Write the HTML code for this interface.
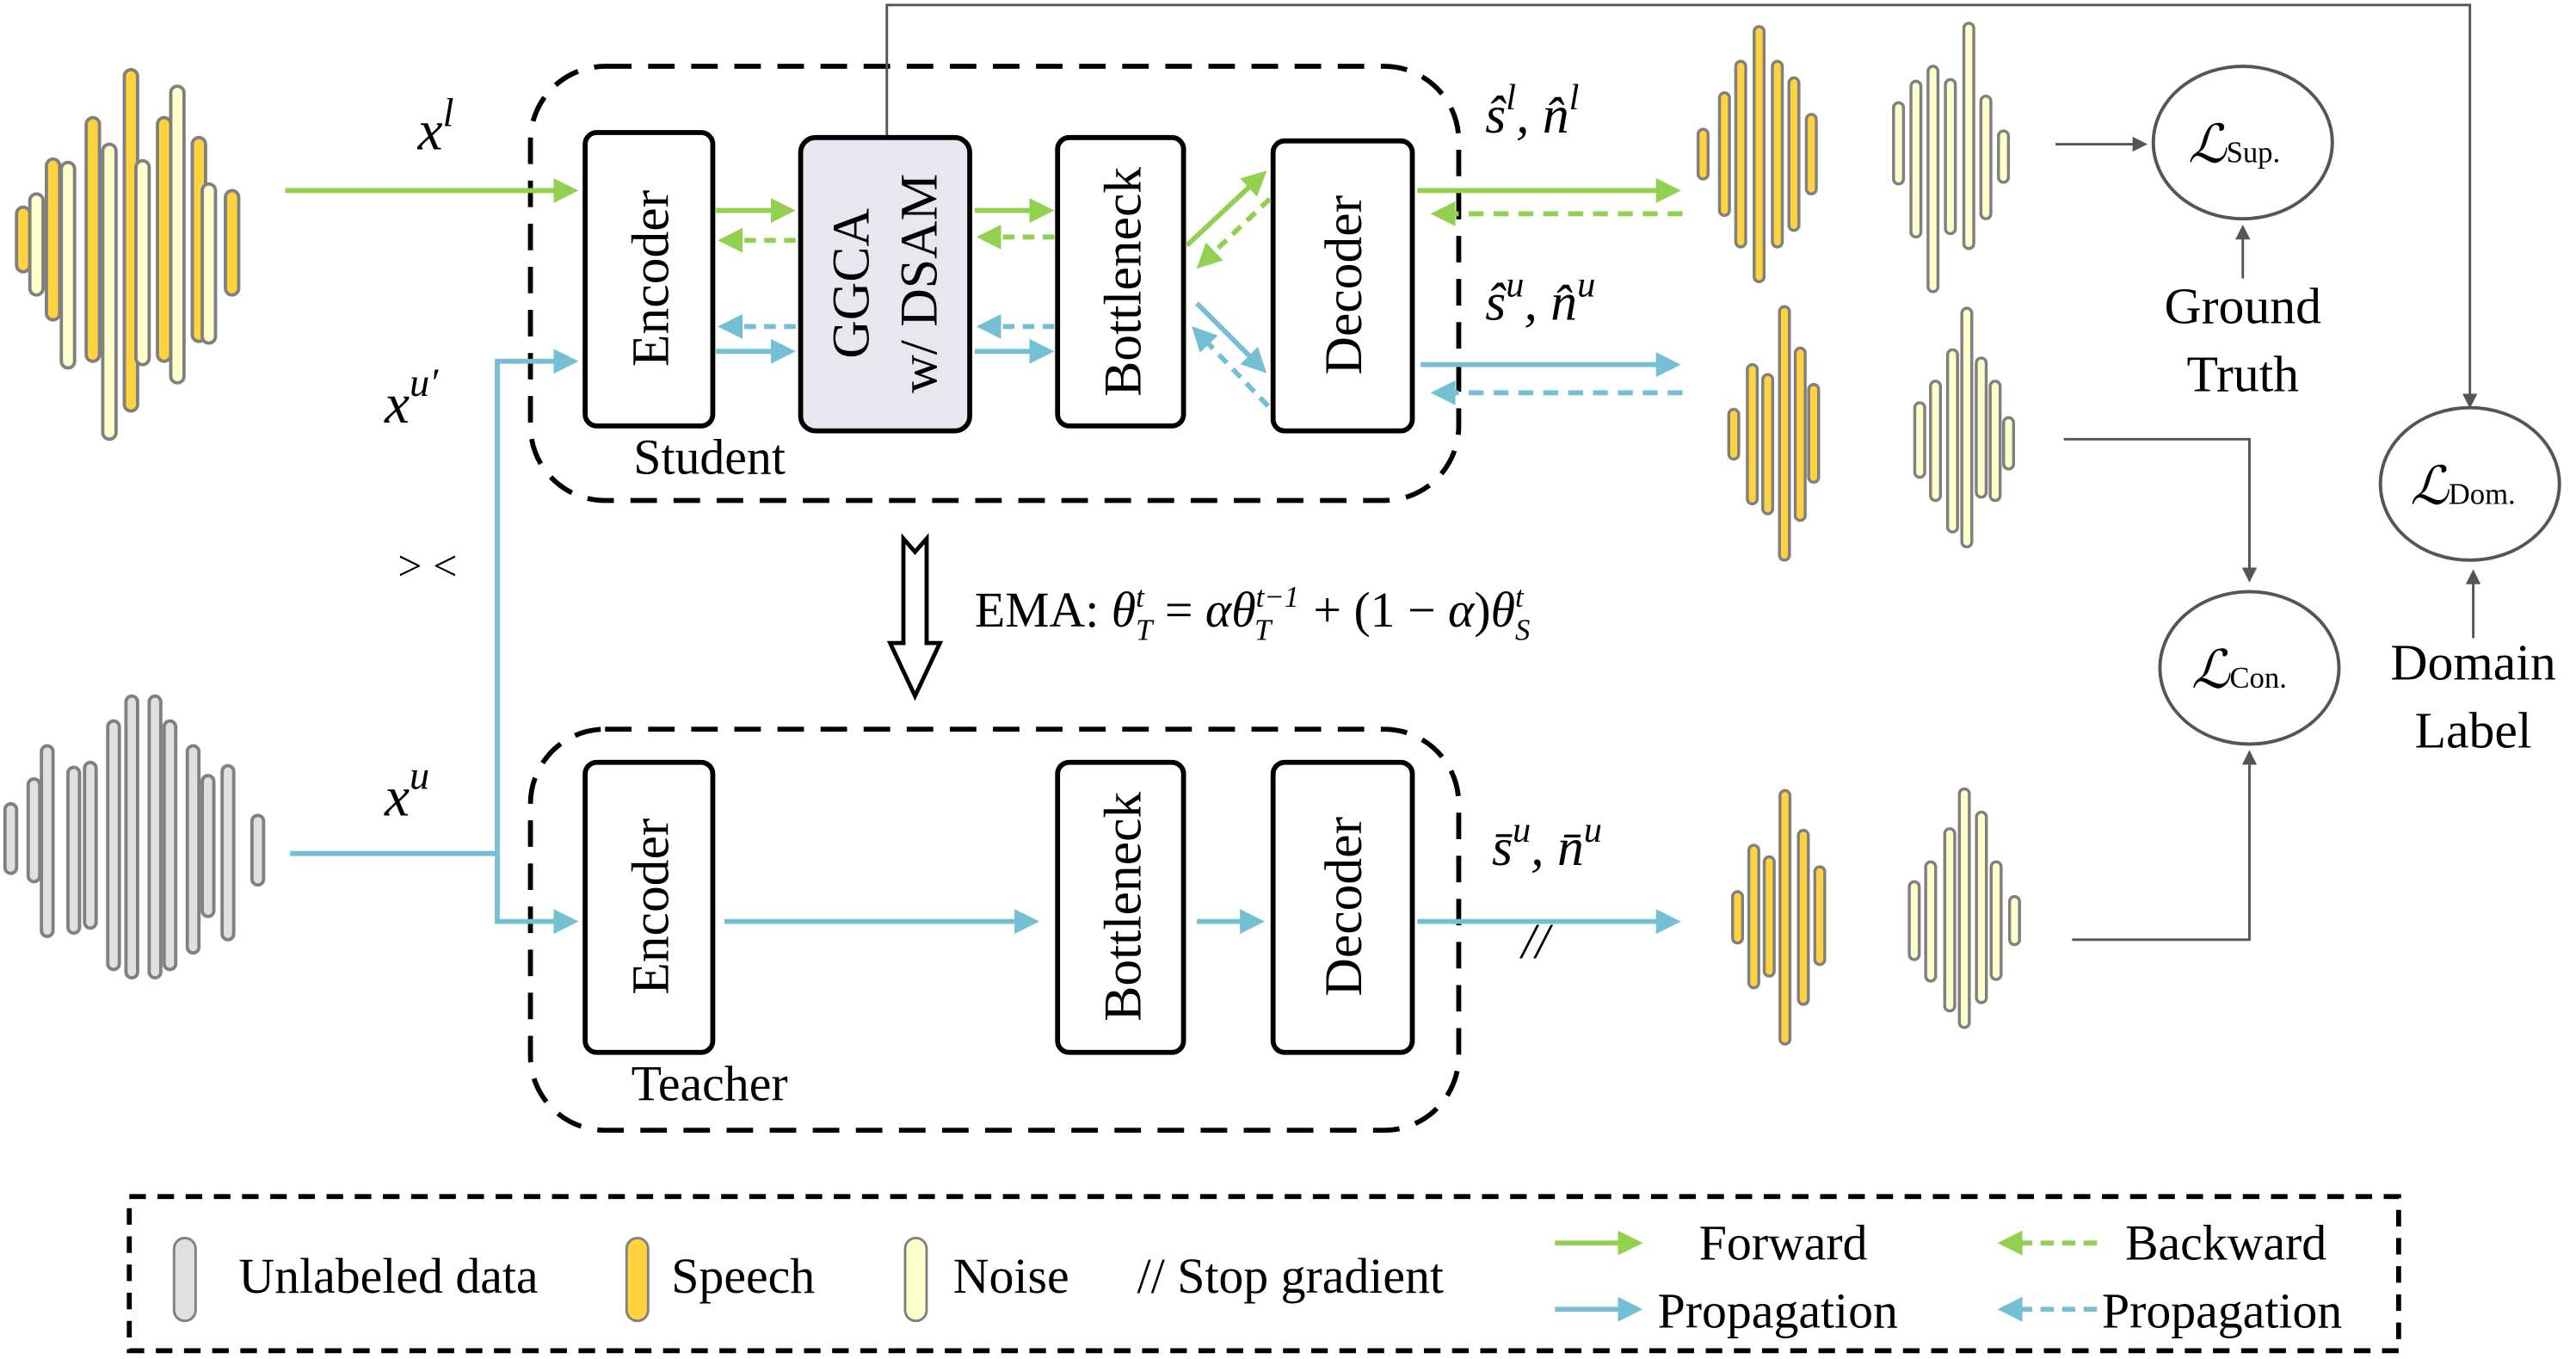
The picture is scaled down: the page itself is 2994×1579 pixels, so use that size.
<!DOCTYPE html>
<html><head><meta charset="utf-8"><style>
html,body{margin:0;padding:0;background:#fff;width:2994px;height:1579px;overflow:hidden}
svg{display:block}
text{font-family:"Liberation Serif",serif;fill:#000}
.m{font-style:italic}
</style></head><body>
<svg width="2994" height="1579" viewBox="0 0 1554 820" preserveAspectRatio="none" xmlns="http://www.w3.org/2000/svg">
<defs>
<marker id="ag" markerWidth="5" markerHeight="5" refX="4" refY="2.5" orient="auto" markerUnits="strokeWidth"><path d="M0,0 L5,2.5 L0,5 z" fill="#92d050"/></marker>
<marker id="ab" markerWidth="5" markerHeight="5" refX="4" refY="2.5" orient="auto" markerUnits="strokeWidth"><path d="M0,0 L5,2.5 L0,5 z" fill="#74bfd3"/></marker>
<marker id="ak" markerWidth="6" markerHeight="6" refX="5" refY="3" orient="auto" markerUnits="strokeWidth"><path d="M0,0 L6,3 L0,6 z" fill="#555"/></marker>
</defs>
<g stroke="#808080" stroke-width="2">
<g>
<rect x="10" y="125" width="8" height="39" rx="4" fill="#ffd33d"/>
<rect x="18" y="117" width="8" height="61" rx="4" fill="#ffffcc"/>
<rect x="28" y="96" width="8" height="97" rx="4" fill="#ffd33d"/>
<rect x="37" y="98" width="8" height="124" rx="4" fill="#ffffcc"/>
<rect x="52" y="71" width="8" height="147" rx="4" fill="#ffd33d"/>
<rect x="62" y="87" width="8" height="178" rx="4" fill="#ffffcc"/>
<rect x="75" y="42" width="8" height="206" rx="4" fill="#ffd33d"/>
<rect x="82" y="97" width="8" height="123" rx="4" fill="#ffffcc"/>
<rect x="95" y="71" width="8" height="147" rx="4" fill="#ffd33d"/>
<rect x="103" y="52" width="8" height="179" rx="4" fill="#ffffcc"/>
<rect x="116" y="83" width="8" height="123" rx="4" fill="#ffd33d"/>
<rect x="122" y="111" width="8" height="96" rx="4" fill="#ffffcc"/>
<rect x="136" y="115" width="8" height="63" rx="4" fill="#ffd33d"/>
</g>
<g fill="#e0e0e0">
<rect x="3" y="485" width="7" height="42" rx="3.5"/>
<rect x="17" y="470" width="7" height="62" rx="3.5"/>
<rect x="25" y="450" width="7" height="115" rx="3.5"/>
<rect x="41" y="463" width="7" height="100" rx="3.5"/>
<rect x="51" y="460" width="7" height="100" rx="3.5"/>
<rect x="65" y="435" width="7" height="150" rx="3.5"/>
<rect x="76" y="420" width="7" height="170" rx="3.5"/>
<rect x="90" y="420" width="7" height="170" rx="3.5"/>
<rect x="99" y="435" width="7" height="150" rx="3.5"/>
<rect x="113" y="450" width="7" height="125" rx="3.5"/>
<rect x="122" y="468" width="7" height="85" rx="3.5"/>
<rect x="134" y="462" width="7" height="105" rx="3.5"/>
<rect x="152" y="492" width="7" height="42" rx="3.5"/>
</g>
</g>
<g stroke="#808080" stroke-width="1.8">
<g fill="#ffd33d">
<rect x="1024.4" y="78" width="6" height="30" rx="3"/>
<rect x="1037.3" y="56" width="6" height="74" rx="3"/>
<rect x="1047.1" y="37" width="6" height="112" rx="3"/>
<rect x="1058.2" y="16" width="6" height="154" rx="3"/>
<rect x="1069.2" y="37" width="6" height="112" rx="3"/>
<rect x="1079.2" y="47" width="6" height="92" rx="3"/>
<rect x="1089.7" y="69" width="6" height="48" rx="3"/>
</g>
<g fill="#ffffcc">
<rect x="1142.3" y="62" width="6" height="49" rx="3"/>
<rect x="1152.8" y="49" width="6" height="94" rx="3"/>
<rect x="1163.1" y="40" width="6" height="136" rx="3"/>
<rect x="1173.6" y="48" width="6" height="93" rx="3"/>
<rect x="1184.7" y="14" width="6" height="136" rx="3"/>
<rect x="1195" y="58" width="6" height="74" rx="3"/>
<rect x="1205.6" y="79" width="6" height="31" rx="3"/>
</g>
<g fill="#ffd33d">
<rect x="1042.9" y="247" width="6" height="30" rx="3"/>
<rect x="1054.1" y="220" width="6" height="84" rx="3"/>
<rect x="1063.4" y="226" width="6" height="84" rx="3"/>
<rect x="1073.5" y="185" width="6" height="153" rx="3"/>
<rect x="1083" y="210" width="6" height="104" rx="3"/>
<rect x="1091.1" y="232" width="6" height="59" rx="3"/>
</g>
<g fill="#ffffcc">
<rect x="1155.1" y="243" width="6" height="45" rx="3"/>
<rect x="1164.6" y="230" width="6" height="72" rx="3"/>
<rect x="1174.9" y="211" width="6" height="110" rx="3"/>
<rect x="1183.5" y="186" width="6" height="144" rx="3"/>
<rect x="1192.2" y="216" width="6" height="84" rx="3"/>
<rect x="1200.6" y="230" width="6" height="72" rx="3"/>
<rect x="1208.7" y="252" width="6" height="31" rx="3"/>
</g>
<g fill="#ffd33d">
<rect x="1045.2" y="538" width="6" height="31" rx="3"/>
<rect x="1055" y="510" width="6" height="86" rx="3"/>
<rect x="1064.3" y="517" width="6" height="72" rx="3"/>
<rect x="1073.8" y="477" width="6" height="153" rx="3"/>
<rect x="1084.9" y="501" width="6" height="105" rx="3"/>
<rect x="1094.8" y="523" width="6" height="59" rx="3"/>
</g>
<g fill="#ffffcc">
<rect x="1151.8" y="532" width="6" height="47" rx="3"/>
<rect x="1161.7" y="520" width="6" height="72" rx="3"/>
<rect x="1173.2" y="500" width="6" height="110" rx="3"/>
<rect x="1182" y="476" width="6" height="144" rx="3"/>
<rect x="1192.3" y="490" width="6" height="115" rx="3"/>
<rect x="1201.2" y="520" width="6" height="71" rx="3"/>
<rect x="1212.3" y="541" width="6" height="29" rx="3"/>
</g>
</g>

<rect x="320" y="40" width="560" height="262" rx="45" fill="none" stroke="#000" stroke-width="3" stroke-dasharray="16,10"/>
<rect x="320" y="440" width="560" height="242" rx="45" fill="none" stroke="#000" stroke-width="3" stroke-dasharray="16,10"/>

<polyline points="535,83 535,3 1490,3 1490,245" fill="none" stroke="#555" stroke-width="1.5" marker-end="url(#ak)"/>

<g stroke="#000" stroke-width="3">
<rect x="353" y="80" width="77" height="177" rx="7" fill="#fff"/>
<rect x="483" y="83" width="102" height="177" rx="9" fill="#e8e6ee"/>
<rect x="638" y="83" width="76" height="174" rx="7" fill="#fff"/>
<rect x="768" y="85" width="84" height="175" rx="7" fill="#fff"/>
<rect x="353" y="460" width="77" height="175" rx="7" fill="#fff"/>
<rect x="638" y="460" width="76" height="175" rx="7" fill="#fff"/>
<rect x="768" y="460" width="84" height="175" rx="7" fill="#fff"/>
</g>
<g font-size="32">
<text transform="translate(403,168) rotate(-90)" text-anchor="middle">Encoder</text>
<text transform="translate(524,171) rotate(-90)" text-anchor="middle">GGCA</text>
<text transform="translate(565,171) rotate(-90)" text-anchor="middle">w/ DSAM</text>
<text transform="translate(688,170) rotate(-90)" text-anchor="middle">Bottleneck</text>
<text transform="translate(821,172) rotate(-90)" text-anchor="middle">Decoder</text>
<text transform="translate(403,547) rotate(-90)" text-anchor="middle">Encoder</text>
<text transform="translate(688,547) rotate(-90)" text-anchor="middle">Bottleneck</text>
<text transform="translate(821,547) rotate(-90)" text-anchor="middle">Decoder</text>
</g>
<text x="428" y="286" font-size="30" text-anchor="middle">Student</text>
<text x="428" y="664" font-size="30" text-anchor="middle">Teacher</text>

<g stroke="#92d050" stroke-width="3" fill="none">
<line x1="172" y1="115" x2="346" y2="115" marker-end="url(#ag)"/>
<line x1="432" y1="127" x2="477" y2="127" marker-end="url(#ag)"/>
<line x1="480" y1="145" x2="436" y2="145" stroke-dasharray="7,5" marker-end="url(#ag)"/>
<line x1="588" y1="127" x2="633" y2="127" marker-end="url(#ag)"/>
<line x1="636" y1="143" x2="592" y2="143" stroke-dasharray="7,5" marker-end="url(#ag)"/>
<line x1="716" y1="148" x2="762" y2="105" marker-end="url(#ag)"/>
<line x1="766" y1="120" x2="724" y2="160" stroke-dasharray="7,5" marker-end="url(#ag)"/>
<line x1="855" y1="115" x2="1011" y2="115" marker-end="url(#ag)"/>
<line x1="1015" y1="129" x2="866" y2="129" stroke-dasharray="9,6" marker-end="url(#ag)"/>
</g>
<g stroke="#74bfd3" stroke-width="3" fill="none">
<line x1="175" y1="515" x2="300" y2="515"/>
<polyline points="300,515 300,218 346,218" marker-end="url(#ab)"/>
<polyline points="300,515 300,556 346,556" marker-end="url(#ab)"/>
<line x1="480" y1="197" x2="436" y2="197" stroke-dasharray="7,5" marker-end="url(#ab)"/>
<line x1="432" y1="212" x2="477" y2="212" marker-end="url(#ab)"/>
<line x1="636" y1="197" x2="592" y2="197" stroke-dasharray="7,5" marker-end="url(#ab)"/>
<line x1="588" y1="212" x2="633" y2="212" marker-end="url(#ab)"/>
<line x1="722" y1="183" x2="762" y2="223" marker-end="url(#ab)"/>
<line x1="765" y1="245" x2="721" y2="199" stroke-dasharray="7,5" marker-end="url(#ab)"/>
<line x1="857" y1="220" x2="1011" y2="220" marker-end="url(#ab)"/>
<line x1="1015" y1="237" x2="866" y2="237" stroke-dasharray="9,6" marker-end="url(#ab)"/>
<line x1="437" y1="556" x2="624" y2="556" marker-end="url(#ab)"/>
<line x1="722" y1="556" x2="760" y2="556" marker-end="url(#ab)"/>
<line x1="855" y1="556" x2="1011" y2="556" marker-end="url(#ab)"/>
</g>
<text x="918" y="578" font-size="30" font-style="italic">//</text>
<text x="240" y="350" font-size="26">&gt; &lt;</text>

<text x="252" y="90" font-size="34" class="m">x<tspan font-size="24" dy="-14">l</tspan></text>
<text x="232" y="255" font-size="34" class="m">x<tspan font-size="24" dy="-16">u′</tspan></text>
<text x="232" y="492" font-size="34" class="m">x<tspan font-size="24" dy="-16">u</tspan></text>
<text x="896" y="80" font-size="32" class="m">ŝ<tspan font-size="22" dy="-14">l</tspan><tspan dy="14">, n̂</tspan><tspan font-size="22" dy="-14">l</tspan></text>
<text x="896" y="193" font-size="32" class="m">ŝ<tspan font-size="22" dy="-14">u</tspan><tspan dy="14">, n̂</tspan><tspan font-size="22" dy="-14">u</tspan></text>
<text x="900" y="522" font-size="32" class="m">s̄<tspan font-size="22" dy="-14">u</tspan><tspan dy="14">, n̄</tspan><tspan font-size="22" dy="-14">u</tspan></text>

<path d="M545,325 L552,333 L559,325 L559,388 L567,388 L552,420 L537,388 L545,388 Z" fill="#fff" stroke="#000" stroke-width="2.5"/>
<text x="588" y="378" font-size="30">EMA:  <tspan class="m">θ</tspan><tspan class="m" font-size="18" dy="-12">t</tspan><tspan class="m" font-size="18" dx="-5" dy="20">T</tspan><tspan dy="-8"> = </tspan><tspan class="m">αθ</tspan><tspan class="m" font-size="18" dy="-12">t−1</tspan><tspan class="m" font-size="18" dx="-27" dy="20">T</tspan><tspan dx="18" dy="-8"> + (1 − </tspan><tspan class="m">α</tspan><tspan>)</tspan><tspan class="m">θ</tspan><tspan class="m" font-size="18" dy="-12">t</tspan><tspan class="m" font-size="18" dx="-5" dy="20">S</tspan></text>

<g fill="#fff" stroke="#555" stroke-width="2">
<ellipse cx="1353" cy="86" rx="54" ry="46"/>
<ellipse cx="1490" cy="292" rx="54" ry="46"/>
<ellipse cx="1357" cy="403" rx="54" ry="46"/>
</g>
<g stroke="#555" stroke-width="1.5" fill="none">
<line x1="1240" y1="87" x2="1294" y2="87" marker-end="url(#ak)"/>
<line x1="1353" y1="168" x2="1353" y2="137" marker-end="url(#ak)"/>
<polyline points="1245,265 1357,265 1357,350" marker-end="url(#ak)"/>
<polyline points="1250,567 1357,567 1357,454" marker-end="url(#ak)"/>
<line x1="1492" y1="385" x2="1492" y2="345" marker-end="url(#ak)"/>
</g>
<text x="1320" y="98" font-size="32" font-style="italic">ℒ<tspan font-size="18" font-style="normal">Sup.</tspan></text>
<text x="1454" y="304" font-size="32" font-style="italic">ℒ<tspan font-size="18" font-style="normal">Dom.</tspan></text>
<text x="1322" y="415" font-size="32" font-style="italic">ℒ<tspan font-size="18" font-style="normal">Con.</tspan></text>
<text x="1353" y="195" font-size="31" text-anchor="middle">Ground</text>
<text x="1353" y="236" font-size="31" text-anchor="middle">Truth</text>
<text x="1492" y="410" font-size="31" text-anchor="middle">Domain</text>
<text x="1492" y="451" font-size="31" text-anchor="middle">Label</text>

<rect x="78" y="722" width="1369" height="93" fill="none" stroke="#000" stroke-width="3" stroke-dasharray="10,7"/>
<g stroke="#808080" stroke-width="1.5">
<rect x="105" y="747" width="13" height="50" rx="6.5" fill="#e0e0e0"/>
<rect x="378" y="747" width="13" height="50" rx="6.5" fill="#ffd33d"/>
<rect x="546" y="747" width="13" height="50" rx="6.5" fill="#ffffcc"/>
</g>
<g font-size="30">
<text x="144" y="780">Unlabeled data</text>
<text x="405" y="780">Speech</text>
<text x="575" y="780">Noise</text>
<text x="686" y="780">// Stop gradient</text>
<text x="1025" y="760">Forward</text>
<text x="1000" y="801">Propagation</text>
<text x="1282" y="760">Backward</text>
<text x="1268" y="801">Propagation</text>
</g>
<line x1="938" y1="750" x2="988" y2="750" stroke="#92d050" stroke-width="3" marker-end="url(#ag)"/>
<line x1="938" y1="790" x2="988" y2="790" stroke="#74bfd3" stroke-width="3" marker-end="url(#ab)"/>
<line x1="1265" y1="750" x2="1208" y2="750" stroke="#92d050" stroke-width="3" stroke-dasharray="8,5" marker-end="url(#ag)"/>
<line x1="1265" y1="790" x2="1208" y2="790" stroke="#74bfd3" stroke-width="3" stroke-dasharray="8,5" marker-end="url(#ab)"/>
</svg>
</body></html>
